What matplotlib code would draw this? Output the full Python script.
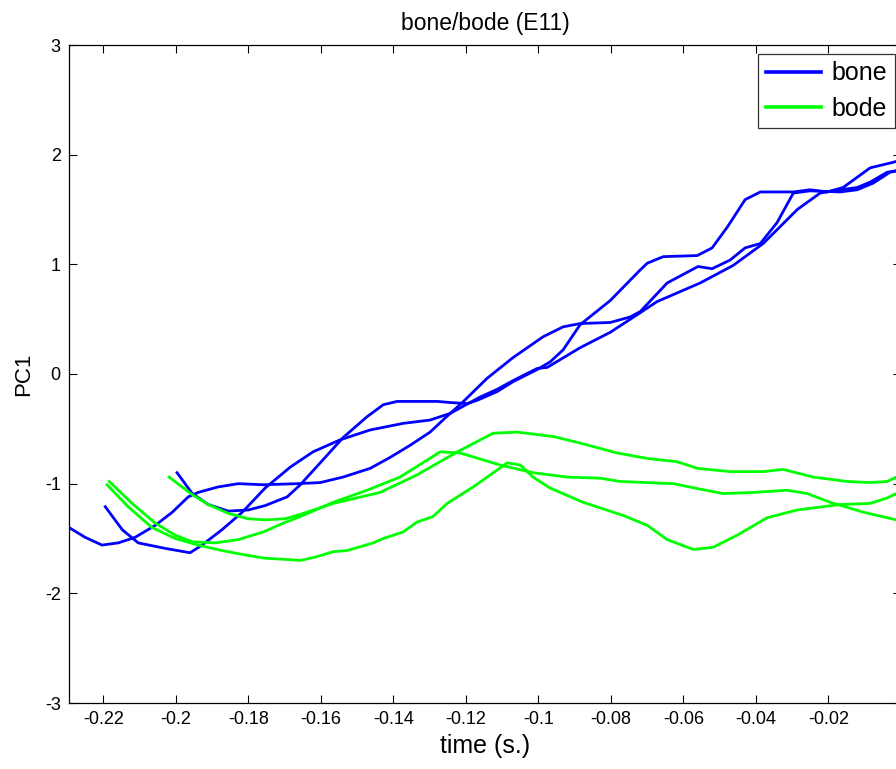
import numpy as np
import matplotlib
matplotlib.use('Agg')
from matplotlib import pyplot as plt
from matplotlib.lines import Line2D

plt.rcParams['font.family'] = ['Liberation Sans', 'DejaVu Sans']
plt.rcParams['axes.unicode_minus'] = False

# PC1 trajectories, three tokens per word (time in s.)
bone_t1 = [-0.2295, -0.2250, -0.2204, -0.2159, -0.2113, -0.2057, -0.2010, -0.1966, -0.1939, -0.1884,
           -0.1828, -0.1759, -0.1666, -0.1602, -0.1539, -0.1464, -0.1409, -0.1354, -0.1299, -0.1257,
           -0.1210, -0.1142, -0.1070, -0.0987, -0.0932, -0.0885, -0.0802, -0.0747, -0.0719, -0.0645,
           -0.0560, -0.0521, -0.0471, -0.0430, -0.0388, -0.0342, -0.0297, -0.0251, -0.0168, -0.0121,
           -0.0077, -0.0030, 0.0]
bone_v1 = [-1.40, -1.49, -1.56, -1.54, -1.49, -1.38, -1.26, -1.12, -1.08, -1.03,
           -1.00, -1.01, -1.00, -0.99, -0.94, -0.86, -0.76, -0.65, -0.53, -0.40,
           -0.26, -0.04, 0.15, 0.34, 0.43, 0.46, 0.47, 0.52, 0.57, 0.83,
           0.98, 0.96, 1.04, 1.15, 1.19, 1.38, 1.65, 1.67, 1.66, 1.68,
           1.74, 1.84, 1.86]

bone_t2 = [-0.2195, -0.2148, -0.2104, -0.2030, -0.1961, -0.1928, -0.1873, -0.1817, -0.1754, -0.1685,
           -0.1622, -0.1547, -0.1464, -0.1373, -0.1299, -0.1244, -0.1161, -0.1114, -0.1070, -0.1004,
           -0.0976, -0.0885, -0.0802, -0.0728, -0.0673, -0.0554, -0.0463, -0.0380, -0.0286, -0.0223,
           -0.0168, -0.0121, -0.0085, -0.0038, 0.0]
bone_v2 = [-1.21, -1.42, -1.54, -1.59, -1.63, -1.56, -1.42, -1.26, -1.04, -0.85,
           -0.71, -0.60, -0.51, -0.45, -0.42, -0.36, -0.21, -0.14, -0.06, 0.05,
           0.06, 0.24, 0.38, 0.54, 0.66, 0.83, 0.99, 1.19, 1.50, 1.65,
           1.68, 1.70, 1.75, 1.84, 1.86]

bone_t3 = [-0.1997, -0.1955, -0.1911, -0.1856, -0.1801, -0.1754, -0.1693, -0.1657, -0.1602, -0.1539,
           -0.1473, -0.1428, -0.1390, -0.1279, -0.1244, -0.1197, -0.1169, -0.1114, -0.1070, -0.1004,
           -0.0968, -0.0932, -0.0885, -0.0802, -0.0719, -0.0700, -0.0656, -0.0562, -0.0521, -0.0479,
           -0.0430, -0.0388, -0.0297, -0.0251, -0.0204, -0.0160, -0.0085, -0.0022, 0.0]
bone_v3 = [-0.90, -1.09, -1.19, -1.25, -1.24, -1.20, -1.12, -1.01, -0.81, -0.58,
           -0.39, -0.28, -0.25, -0.25, -0.26, -0.27, -0.24, -0.16, -0.07, 0.04,
           0.11, 0.22, 0.45, 0.67, 0.95, 1.01, 1.07, 1.08, 1.15, 1.34,
           1.59, 1.66, 1.66, 1.68, 1.66, 1.70, 1.88, 1.93, 1.95]

bode_t1 = [-0.2184, -0.2121, -0.2057, -0.2002, -0.1955, -0.1892, -0.1828, -0.1759, -0.1704, -0.1657,
           -0.1566, -0.1473, -0.1382, -0.1271, -0.1216, -0.1106, -0.1015, -0.0921, -0.0830, -0.0775,
           -0.0628, -0.0554, -0.0491, -0.0408, -0.0314, -0.0259, -0.0195, -0.0104, 0.0]
bode_v1 = [-0.98, -1.18, -1.36, -1.47, -1.53, -1.54, -1.51, -1.44, -1.36, -1.30,
           -1.17, -1.06, -0.94, -0.71, -0.72, -0.83, -0.90, -0.94, -0.95, -0.98,
           -1.00, -1.05, -1.09, -1.08, -1.06, -1.09, -1.17, -1.26, -1.34]

bode_t2 = [-0.2190, -0.2132, -0.2066, -0.2002, -0.1939, -0.1873, -0.1809, -0.1754, -0.1699, -0.1657,
           -0.1616, -0.1566, -0.1528, -0.1456, -0.1428, -0.1373, -0.1335, -0.1291, -0.1252, -0.1180,
           -0.1086, -0.1050, -0.1015, -0.0968, -0.0877, -0.0766, -0.0700, -0.0645, -0.0573, -0.0518,
           -0.0452, -0.0369, -0.0286, -0.0168, -0.0085, -0.0038, 0.0]
bode_v2 = [-1.01, -1.21, -1.40, -1.50, -1.56, -1.61, -1.65, -1.68, -1.69, -1.70,
           -1.67, -1.62, -1.61, -1.54, -1.50, -1.44, -1.35, -1.30, -1.18, -1.03,
           -0.81, -0.83, -0.94, -1.04, -1.17, -1.29, -1.38, -1.51, -1.60, -1.58,
           -1.47, -1.31, -1.24, -1.19, -1.18, -1.13, -1.07]

bode_t3 = [-0.2019, -0.1955, -0.1911, -0.1856, -0.1801, -0.1754, -0.1699, -0.1657, -0.1566, -0.1437,
           -0.1335, -0.1224, -0.1125, -0.1059, -0.0959, -0.0885, -0.0783, -0.0700, -0.0617, -0.0562,
           -0.0471, -0.0380, -0.0325, -0.0242, -0.0148, -0.0085, -0.0038, -0.0013, 0.0]
bode_v3 = [-0.94, -1.10, -1.19, -1.27, -1.32, -1.33, -1.32, -1.28, -1.18, -1.08,
           -0.92, -0.71, -0.54, -0.53, -0.57, -0.63, -0.72, -0.77, -0.80, -0.86,
           -0.89, -0.89, -0.87, -0.94, -0.98, -0.99, -0.98, -0.94, -0.91]

bone_runs = [(bone_t1, bone_v1), (bone_t2, bone_v2), (bone_t3, bone_v3)]
bode_runs = [(bode_t1, bode_v1), (bode_t2, bode_v2), (bode_t3, bode_v3)]

xticks = np.arange(-0.22, -0.01, 0.02)
yticks = [-3, -2, -1, 0, 1, 2, 3]

fig = plt.figure(figsize=(8.96, 7.69), dpi=100)
ax = fig.add_axes([69/896, 66/769, 832/896, 658/769])

for t, v in bone_runs:
    ax.plot(t, v, color='#0000ff', lw=2.0, solid_joinstyle='round')
for t, v in bode_runs:
    ax.plot(t, v, color='#00ff00', lw=2.0, solid_joinstyle='round')

ax.set_xlim(-0.2295, 0.0)
ax.set_ylim(-3, 3)
ax.set_xticks(xticks)
ax.set_xticklabels(['%g' % round(x, 2) for x in xticks])
ax.set_yticks(yticks)
ax.tick_params(direction='in', length=6, width=0.8, top=True, right=True, colors='black')
ax.tick_params(axis='x', labelsize=13, pad=6)
ax.tick_params(axis='y', labelsize=13, pad=6)
for s in ax.spines.values():
    s.set_linewidth(0.9)

ax.set_title('bone/bode (E11)', fontsize=16.5, pad=11)
ax.set_xlabel('time (s.)', fontsize=18, labelpad=4)
ax.set_ylabel('PC1', fontsize=16, labelpad=8)

# legend sits against the top-right corner of the figure
handles = [Line2D([], [], color='#0000ff', lw=2.6), Line2D([], [], color='#00ff00', lw=2.6)]
leg = fig.legend(handles, ['bone', 'bode'], loc='upper right', bbox_to_anchor=(895/896, 1 - 54/769),
                 fontsize=18, frameon=True, fancybox=False, framealpha=1, edgecolor='#333333',
                 borderaxespad=0, handlelength=2.2, handletextpad=0.45, labelspacing=0.45,
                 borderpad=0.3)
leg.get_frame().set_linewidth(0.9)

fig.savefig('out.png', dpi=100)
